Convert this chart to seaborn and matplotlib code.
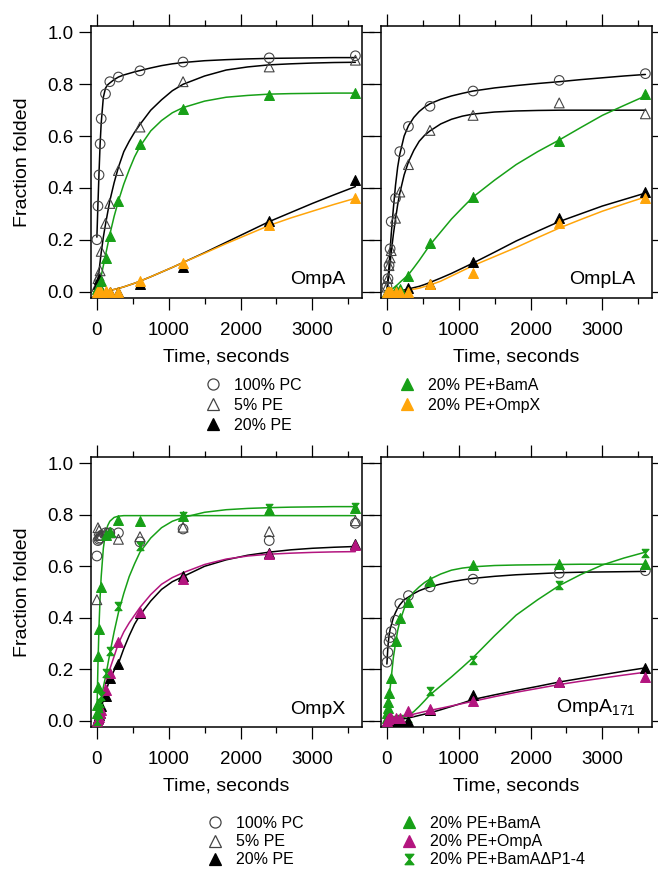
import matplotlib
matplotlib.use("Agg")
import matplotlib.pyplot as plt
from matplotlib.lines import Line2D
import seaborn as sns

# ---------------- data ----------------
# common time grids (seconds)
T12 = [0, 15, 30, 45, 60, 120, 180, 300, 600, 1200, 2400, 3600]
T13 = [0, 5, 10, 15, 30, 60, 120, 180, 300, 600, 1200, 2400, 3600]
# time grid on which the fitted curves were read
TC = [0, 15, 30, 45, 60, 90, 120, 150, 180, 240, 300, 375, 450, 525, 600, 750, 900,
      1050, 1200, 1500, 1800, 2100, 2400, 2700, 3000, 3300, 3600]

# ---- OmpA panel ----
A_pc = [0.20, 0.33, 0.45, 0.57, 0.667, 0.763, 0.81, 0.828, 0.852, 0.886, 0.902, 0.91]
A_pe5 = [0.02, 0.05, 0.06, 0.08, 0.155, 0.263, 0.34, 0.467, 0.635, 0.81, 0.867, 0.893]
A_pe20 = [0.0, 0.03, 0.05, 0.0, 0.0, 0.0, 0.0, 0.0, 0.028, 0.093, 0.274, 0.432]
A_bam_t = [0, 30, 60, 120, 180, 300, 600, 1200, 2400, 3600]
A_bam = [0.01, 0.02, 0.04, 0.13, 0.215, 0.35, 0.568, 0.706, 0.76, 0.766]
A_ompx = [0.0, 0.0, 0.0, 0.0, 0.0, 0.003, 0.0, 0.0, 0.04, 0.11, 0.255, 0.36]
A_fit_pc = [0.21, 0.34, 0.46, 0.57, 0.65, 0.75, 0.785, 0.798, 0.805, 0.818, 0.828, 0.836, 0.842,
            0.848, 0.853, 0.863, 0.872, 0.879, 0.884, 0.891, 0.895, 0.898, 0.90, 0.901, 0.902,
            0.903, 0.903]
A_fit_pe5 = [0.0, 0.04, 0.08, 0.115, 0.15, 0.21, 0.26, 0.305, 0.35, 0.42, 0.48, 0.54, 0.58,
             0.615, 0.645, 0.70, 0.74, 0.775, 0.80, 0.832, 0.855, 0.867, 0.875, 0.879, 0.882,
             0.884, 0.885]
A_fit_bam = [0.0, 0.01, 0.025, 0.04, 0.06, 0.10, 0.14, 0.18, 0.22, 0.29, 0.35, 0.415, 0.47,
             0.52, 0.56, 0.62, 0.66, 0.69, 0.71, 0.735, 0.75, 0.757, 0.762, 0.764, 0.765,
             0.766, 0.766]
A_fit_pe20 = [0.0, 0.0, 0.0, 0.0, 0.0, 0.0, 0.001, 0.002, 0.004, 0.008, 0.012, 0.018, 0.025,
              0.032, 0.04, 0.057, 0.075, 0.093, 0.112, 0.15, 0.19, 0.23, 0.27, 0.305, 0.34,
              0.373, 0.405]
A_fit_ompx = [0.0, 0.0, 0.0, 0.0, 0.0, 0.0, 0.001, 0.002, 0.004, 0.008, 0.012, 0.018, 0.025,
              0.032, 0.04, 0.057, 0.075, 0.093, 0.112, 0.148, 0.185, 0.22, 0.255, 0.284, 0.31,
              0.336, 0.36]

# ---- OmpLA panel ----
L_pc = [0.02, 0.05, 0.10, 0.165, 0.27, 0.36, 0.54, 0.637, 0.715, 0.774, 0.815, 0.841]
L_pe5 = [0.017, 0.05, 0.10, 0.13, 0.158, 0.283, 0.384, 0.49, 0.622, 0.68, 0.728, 0.686]
L_pe20 = [0.0, 0.0, 0.0, 0.0, 0.0, 0.0, 0.0, 0.013, 0.03, 0.115, 0.284, 0.383]
L_bam = [0.0, 0.0, 0.0, 0.0, 0.0, 0.005, 0.01, 0.06, 0.186, 0.364, 0.58, 0.764]
L_ompx = [0.0, 0.0, 0.0, 0.0, 0.0, 0.0, 0.0, 0.0, 0.028, 0.07, 0.263, 0.361]
L_fit_pc = [0.0, 0.05, 0.10, 0.16, 0.22, 0.32, 0.41, 0.48, 0.53, 0.60, 0.64, 0.672, 0.695,
            0.712, 0.725, 0.742, 0.755, 0.765, 0.774, 0.786, 0.795, 0.803, 0.81, 0.818, 0.825,
            0.832, 0.838]
L_fit_pe5 = [0.0, 0.035, 0.07, 0.11, 0.15, 0.22, 0.28, 0.335, 0.38, 0.45, 0.50, 0.545, 0.58,
             0.603, 0.62, 0.647, 0.665, 0.677, 0.685, 0.693, 0.697, 0.699, 0.70, 0.70, 0.70,
             0.70, 0.70]
L_fit_bam = [0.0, 0.0, 0.0, 0.003, 0.006, 0.013, 0.02, 0.027, 0.035, 0.05, 0.065, 0.092, 0.12,
             0.15, 0.18, 0.23, 0.28, 0.323, 0.365, 0.43, 0.49, 0.54, 0.585, 0.633, 0.68, 0.718,
             0.755]
L_fit_pe20 = [0.0, 0.0, 0.0, 0.0, 0.0, 0.0, 0.001, 0.002, 0.003, 0.006, 0.01, 0.015, 0.02,
              0.027, 0.035, 0.052, 0.07, 0.09, 0.11, 0.152, 0.195, 0.233, 0.27, 0.30, 0.33,
              0.355, 0.38]
L_fit_ompx = [0.0, 0.0, 0.0, 0.0, 0.0, 0.0, 0.0, 0.001, 0.002, 0.003, 0.005, 0.009, 0.013,
              0.019, 0.025, 0.04, 0.06, 0.08, 0.10, 0.135, 0.17, 0.208, 0.245, 0.278, 0.31,
              0.338, 0.365]

# ---- OmpX panel ----
X_pc = [0.64, 0.70, 0.705, 0.71, 0.72, 0.73, 0.73, 0.73, 0.695, 0.745, 0.70, 0.767]
X_pe5 = [0.47, 0.75, 0.74, 0.72, 0.72, 0.73, 0.73, 0.705, 0.715, 0.752, 0.735, 0.777]
X_pe20 = [0.0, 0.01, 0.02, 0.03, 0.056, 0.094, 0.166, 0.221, 0.418, 0.563, 0.65, 0.687]
X_ompa = [0.0, 0.005, 0.015, 0.03, 0.043, 0.12, 0.185, 0.307, 0.424, 0.551, 0.648, 0.683]
X_bam = [0.03, 0.06, 0.13, 0.25, 0.355, 0.52, 0.72, 0.735, 0.78, 0.777, 0.796, 0.819, 0.825]
X_dp = [0.0, 0.03, 0.05, 0.07, 0.094, 0.185, 0.27, 0.444, 0.677, 0.796, 0.825, 0.832]
X_fit_bam = [0.02, 0.22, 0.37, 0.48, 0.56, 0.67, 0.73, 0.758, 0.775, 0.79, 0.795, 0.797, 0.797,
             0.797, 0.797, 0.797, 0.797, 0.797, 0.797, 0.797, 0.797, 0.797, 0.797, 0.797,
             0.797, 0.797, 0.797]
X_fit_dp = [0.0, 0.02, 0.04, 0.06, 0.08, 0.13, 0.17, 0.215, 0.26, 0.345, 0.42, 0.495, 0.56,
            0.61, 0.655, 0.71, 0.75, 0.775, 0.79, 0.81, 0.82, 0.825, 0.828, 0.83, 0.831,
            0.832, 0.832]
X_fit_pe20 = [0.0, 0.01, 0.02, 0.035, 0.05, 0.08, 0.11, 0.135, 0.16, 0.195, 0.222, 0.28, 0.33,
              0.375, 0.41, 0.465, 0.51, 0.54, 0.56, 0.60, 0.625, 0.643, 0.655, 0.664, 0.67,
              0.674, 0.677]
X_fit_ompa = [0.0, 0.02, 0.035, 0.05, 0.07, 0.105, 0.14, 0.17, 0.20, 0.25, 0.30, 0.345, 0.38,
              0.41, 0.44, 0.49, 0.53, 0.556, 0.575, 0.607, 0.628, 0.64, 0.647, 0.651, 0.654,
              0.656, 0.657]

# ---- OmpA171 panel ----
S_pc = [0.227, 0.265, 0.307, 0.323, 0.346, 0.39, 0.455, 0.486, 0.52, 0.55, 0.573, 0.583]
S_bam = [0.01, 0.03, 0.048, 0.074, 0.106, 0.165, 0.31, 0.40, 0.462, 0.544, 0.605, 0.608, 0.609]
S_dp_t = [0, 60, 120, 180, 300, 600, 1200, 2400, 3600]
S_dp = [0.0, 0.0, 0.003, 0.005, 0.01, 0.115, 0.236, 0.527, 0.653]
S_pe20 = [0.0, 0.0, 0.0, 0.0, 0.0, 0.0, 0.0, 0.0, 0.04, 0.10, 0.15, 0.203]
S_ompa = [0.0, 0.005, 0.01, 0.01, 0.01, 0.01, 0.01, 0.039, 0.044, 0.078, 0.149, 0.171]
S_fit_pc = [0.22, 0.29, 0.33, 0.355, 0.37, 0.40, 0.42, 0.437, 0.45, 0.47, 0.48, 0.494, 0.505,
            0.513, 0.52, 0.531, 0.54, 0.547, 0.553, 0.561, 0.567, 0.571, 0.575, 0.577, 0.578,
            0.579, 0.58]
S_fit_bam = [0.0, 0.04, 0.08, 0.125, 0.165, 0.245, 0.30, 0.35, 0.385, 0.435, 0.47, 0.50, 0.52,
             0.537, 0.55, 0.57, 0.585, 0.593, 0.598, 0.603, 0.605, 0.606, 0.607, 0.608, 0.608,
             0.608, 0.608]
S_fit_dp = [0.0, 0.0, 0.0, 0.0, 0.0, 0.001, 0.002, 0.004, 0.006, 0.012, 0.02, 0.035, 0.055,
            0.077, 0.10, 0.135, 0.17, 0.207, 0.245, 0.33, 0.41, 0.47, 0.525, 0.568, 0.605,
            0.632, 0.655]
S_fit_pe20 = [0.0, 0.0, 0.0, 0.0, 0.0, 0.001, 0.002, 0.003, 0.004, 0.007, 0.01, 0.015, 0.02,
              0.025, 0.03, 0.042, 0.055, 0.068, 0.082, 0.10, 0.117, 0.133, 0.15, 0.164, 0.178,
              0.192, 0.205]
S_fit_ompa = [0.0, 0.001, 0.002, 0.003, 0.004, 0.006, 0.008, 0.01, 0.012, 0.016, 0.02, 0.025,
              0.03, 0.035, 0.04, 0.048, 0.057, 0.066, 0.075, 0.093, 0.11, 0.125, 0.14, 0.153,
              0.165, 0.177, 0.188]

PANEL_NAMES = ["OmpA", "OmpLA", "OmpX", r"$\mathregular{OmpA_{171}}$"]
LEGEND1 = ["100% PC", "5% PE", "20% PE", "20% PE+BamA", "20% PE+OmpX"]
LEGEND2 = ["100% PC", "5% PE", "20% PE", "20% PE+BamA", "20% PE+OmpA", "20% PE+BamAΔP1-4"]

# ---------------- style ----------------
GREEN = "#17a017"
ORANGE = "#ffa50a"
MAGENTA = "#b3157f"
GRAY = "#444444"
HOURGLASS = [(-0.85, 1), (0.85, 1), (-0.85, -1), (0.85, -1), (-0.85, 1)]

STY = {
    "pc": dict(marker="o", fc="none", ec=GRAY, s=48),
    "pe5": dict(marker="^", fc="none", ec=GRAY, s=50),
    "pe20": dict(marker="^", fc="black", ec="black", s=50),
    "bam": dict(marker="^", fc=GREEN, ec=GREEN, s=50),
    "ompx": dict(marker="^", fc=ORANGE, ec=ORANGE, s=50),
    "ompa": dict(marker="^", fc=MAGENTA, ec=MAGENTA, s=50),
    "dp": dict(marker=HOURGLASS, fc=GREEN, ec=GREEN, s=36),
}

sns.set_theme(style="ticks", rc={"axes.edgecolor": "black", "xtick.color": "black",
                                 "ytick.color": "black", "text.color": "black",
                                 "axes.labelcolor": "black"})
plt.rcParams["font.family"] = ["Liberation Sans", "DejaVu Sans"]
plt.rcParams["mathtext.fontset"] = "custom"
plt.rcParams["mathtext.rm"] = "Liberation Sans"

W, H = 658, 869
fig = plt.figure(figsize=(W / 100, H / 100), dpi=100)


def px_axes(l, t, r, b):
    return fig.add_axes([l / W, 1 - b / H, (r - l) / W, (b - t) / H])


def draw(ax, curves, points, name, ylabel):
    for yv, col in curves:
        sns.lineplot(x=TC, y=yv, ax=ax, color=col, lw=1.1, estimator=None,
                     sort=False, zorder=2)
    for t, yv, key in points:
        st = STY[key]
        sns.scatterplot(x=t, y=yv, ax=ax, marker=st["marker"], s=st["s"],
                        color=st["ec"], facecolors=st["fc"], edgecolor=st["ec"],
                        linewidth=0.8, zorder=3, clip_on=False)
    ax.set_xlim(-82, 3692)
    ax.set_ylim(-0.025, 1.025)
    ax.set_xticks([0, 1000, 2000, 3000])
    ax.set_xticks([500, 1500, 2500, 3500], minor=True)
    ax.set_yticks([0.0, 0.2, 0.4, 0.6, 0.8, 1.0])
    ax.tick_params(which="major", direction="out", length=8.5, width=0.9,
                   top=True, right=True, labelsize=13.5)
    ax.tick_params(axis="x", which="major", pad=8.5)
    ax.tick_params(axis="y", which="major", pad=4)
    ax.tick_params(axis="x", which="minor", direction="out", length=4.5,
                   width=0.9, top=True, bottom=True)
    for sp in ax.spines.values():
        sp.set_linewidth(1.1)
        sp.set_color("black")
    ax.set_xlabel("Time, seconds", fontsize=14, labelpad=7)
    if ylabel:
        ax.set_ylabel("Fraction folded", fontsize=14, labelpad=12)
    else:
        ax.set_ylabel("")
        ax.tick_params(axis="y", labelleft=False)
    ax.text(0.94, 0.035, name, transform=ax.transAxes, ha="right", va="bottom",
            fontsize=14)


ax1 = px_axes(91, 26, 362, 298)
ax2 = px_axes(381, 26, 652, 298)
ax3 = px_axes(91, 457, 362, 727)
ax4 = px_axes(381, 457, 652, 727)

draw(ax1,
     [(A_fit_pc, "black"), (A_fit_pe5, "black"), (A_fit_bam, GREEN),
      (A_fit_pe20, "black"), (A_fit_ompx, ORANGE)],
     [(T12, A_pc, "pc"), (T12, A_pe5, "pe5"), (T12, A_pe20, "pe20"),
      (A_bam_t, A_bam, "bam"), (T12, A_ompx, "ompx")],
     PANEL_NAMES[0], True)
draw(ax2,
     [(L_fit_pc, "black"), (L_fit_pe5, "black"), (L_fit_bam, GREEN),
      (L_fit_pe20, "black"), (L_fit_ompx, ORANGE)],
     [(T12, L_pc, "pc"), (T12, L_pe5, "pe5"), (T12, L_pe20, "pe20"),
      (T12, L_bam, "bam"), (T12, L_ompx, "ompx")],
     PANEL_NAMES[1], False)
draw(ax3,
     [(X_fit_bam, GREEN), (X_fit_dp, GREEN), (X_fit_pe20, "black"),
      (X_fit_ompa, MAGENTA)],
     [(T12, X_pc, "pc"), (T12, X_pe5, "pe5"), (T12, X_pe20, "pe20"),
      (T12, X_ompa, "ompa"), (T13, X_bam, "bam"), (T12, X_dp, "dp")],
     PANEL_NAMES[2], True)
draw(ax4,
     [(S_fit_pc, "black"), (S_fit_bam, GREEN), (S_fit_dp, GREEN),
      (S_fit_pe20, "black"), (S_fit_ompa, MAGENTA)],
     [(T12, S_pc, "pc"), (T13, S_bam, "bam"), (S_dp_t, S_dp, "dp"),
      (T12, S_pe20, "pe20"), (T12, S_ompa, "ompa")],
     PANEL_NAMES[3], False)


def handle(key):
    st = STY[key]
    ms = 8 if key != "dp" else 7.5
    return Line2D([], [], linestyle="none", marker=st["marker"], markersize=ms,
                  markerfacecolor=st["fc"], markeredgecolor=st["ec"],
                  markeredgewidth=0.9)


leg_kw = dict(loc="upper left", ncol=2, frameon=False, fontsize=11.5,
              handlelength=1.2, handletextpad=0.71, columnspacing=6.0,
              borderpad=0, borderaxespad=0)
fig.legend([handle(k) for k in ["pc", "pe5", "pe20", "bam", "ompx"]], LEGEND1,
           bbox_to_anchor=(203.5 / W, 1 - 378 / H), labelspacing=0.3, **leg_kw)
fig.legend([handle(k) for k in ["pc", "pe5", "pe20", "bam", "ompa", "dp"]], LEGEND2,
           bbox_to_anchor=(205.5 / W, 1 - 816 / H), labelspacing=0.2, **leg_kw)

fig.savefig("out.png", dpi=100)
